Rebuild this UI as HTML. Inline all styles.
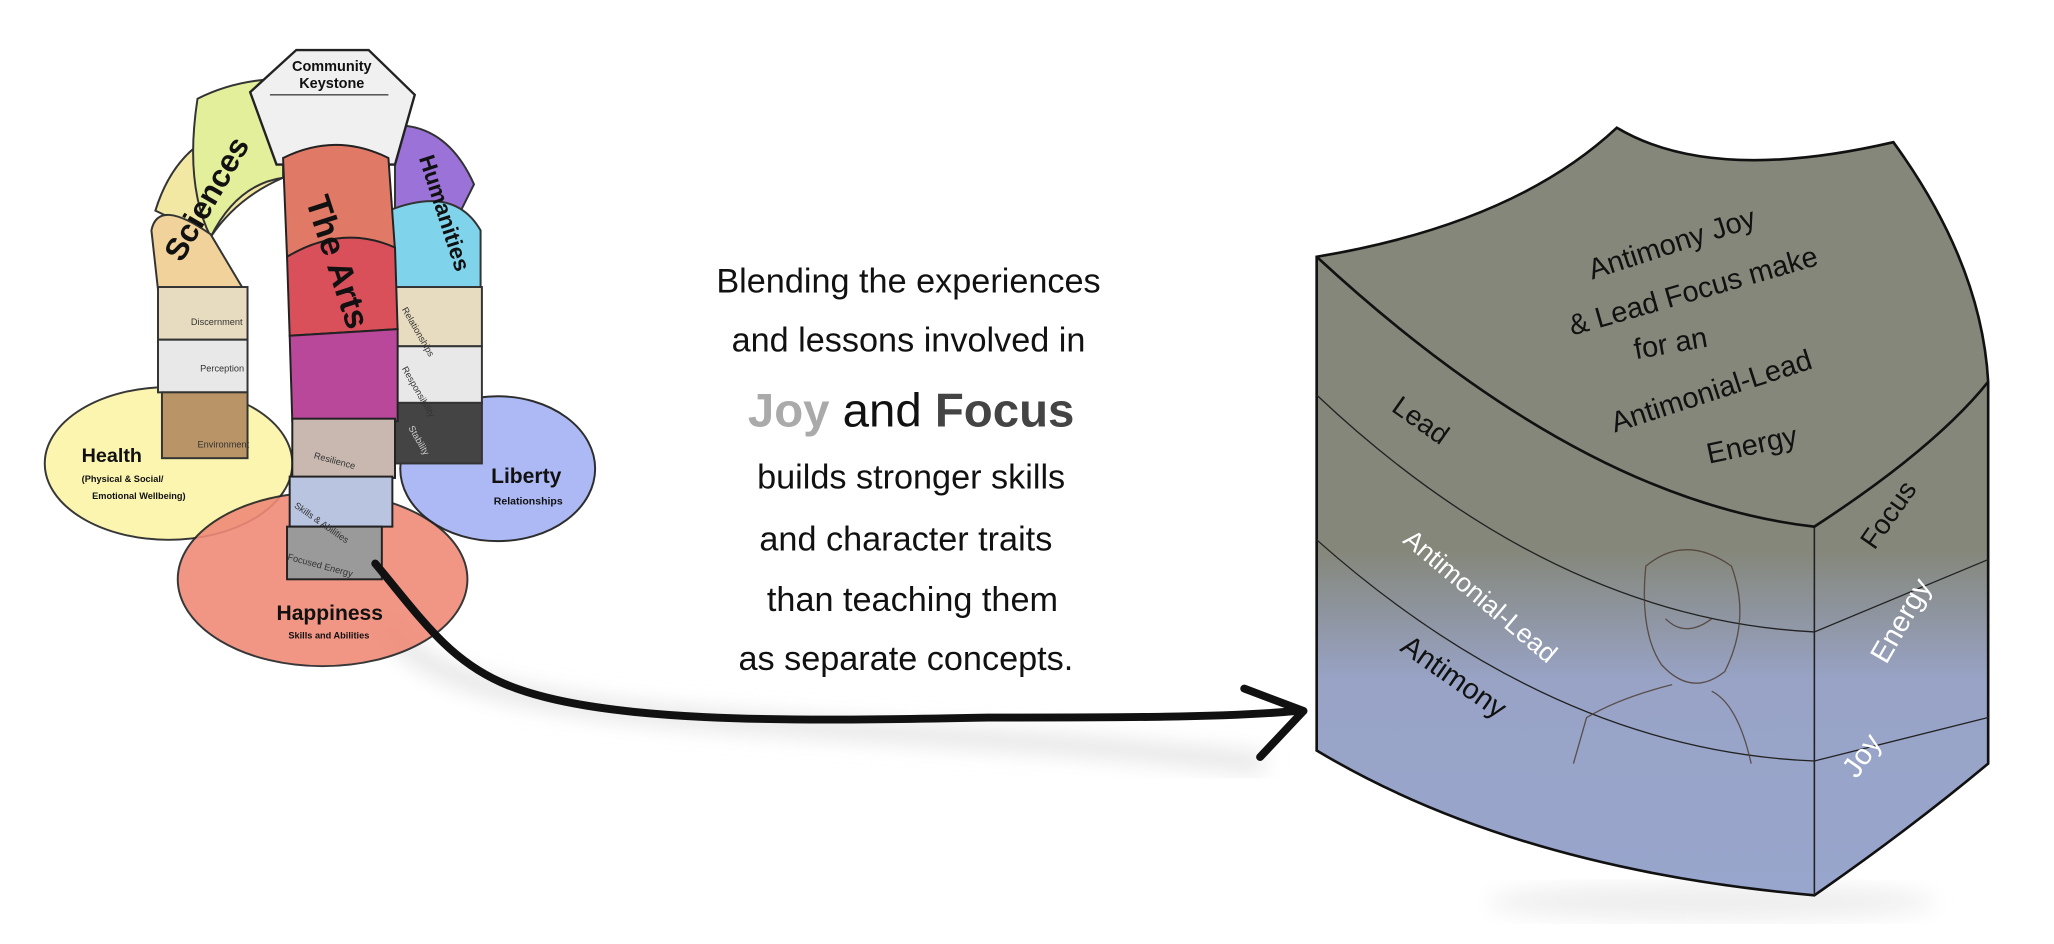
<!DOCTYPE html>
<html><head><meta charset="utf-8"><style>
html,body{margin:0;padding:0;background:#fff;}
svg{display:block;}
text{font-family:"Liberation Sans",sans-serif;}
</style></head><body>
<svg width="2054" height="944" viewBox="0 0 1560 717" preserveAspectRatio="none" xmlns="http://www.w3.org/2000/svg">
<defs>
<linearGradient id="sh" x1="0" y1="0" x2="0" y2="1">
<stop offset="0" stop-color="#85877a"/>
<stop offset="0.55" stop-color="#85877a"/>
<stop offset="0.72" stop-color="#98a3c6"/>
<stop offset="1" stop-color="#98a5cc"/>
</linearGradient>
<filter id="blur"><feGaussianBlur stdDeviation="8"/></filter>
</defs>

<ellipse cx="1300" cy="685" rx="170" ry="14" fill="#eee" filter="url(#blur)"/>
<path d="M290,470 C340,560 600,540 960,580" stroke="#e4e4e4" stroke-width="14" fill="none" filter="url(#blur)"/>

<g stroke="#222" stroke-width="1.5">
<ellipse cx="128" cy="352" rx="94" ry="58" fill="#fbf5a8" opacity="0.9"/>
<ellipse cx="378" cy="356" rx="74" ry="55" fill="#a9b6f4" opacity="0.95"/>
<ellipse cx="245" cy="440" rx="110" ry="66" fill="#f08a78" opacity="0.9"/>
</g>
<g stroke="#333" stroke-width="1.5">
<path d="M118,160 Q135,105 185,95 L215,135 Q180,150 160,180 Z" fill="#f2e8a4"/>
<path d="M150,75 Q180,60 215,60 L215,135 Q180,140 160,180 Q140,140 150,75Z" fill="#e4ef9c"/>
<path d="M115,175 Q120,150 160,178 L185,220 L120,220 Z" fill="#f0d29a"/>
<rect x="120" y="218" width="68" height="40" fill="#e8dcc0"/>
<rect x="120" y="258" width="68" height="40" fill="#e8e8e8"/>
<rect x="123" y="298" width="65" height="50" fill="#b89466"/>
</g>
<g stroke="#333" stroke-width="1.5">
<path d="M300,95 Q340,95 360,140 L345,170 L300,165 Z" fill="#9a72d8"/>
<path d="M295,160 Q345,140 365,175 L365,220 L300,220 Z" fill="#7fd3ea"/>
<rect x="300" y="218" width="66" height="45" fill="#e8dcc0"/>
<rect x="300" y="263" width="66" height="43" fill="#e8e8e8"/>
<rect x="300" y="306" width="66" height="46" fill="#444"/>
</g>
<path d="M190,70 L225,38 L280,38 L315,72 L300,125 L210,125 Z" fill="#f0f0f0" stroke="#222" stroke-width="1.8"/>
<path d="M205,72 L295,72" stroke="#444" fill="none"/>
<g stroke="#222" stroke-width="1.5">
<path d="M215,120 Q255,100 295,120 L300,190 L218,195 Z" fill="#e07a66"/>
<path d="M218,195 Q260,170 300,188 L302,250 L220,255 Z" fill="#d9505a"/>
<path d="M220,255 L302,250 L302,320 L222,320 Z" fill="#b9479a"/>
<rect x="222" y="318" width="78" height="45" fill="#c8b8b0"/>
<rect x="220" y="362" width="78" height="38" fill="#b9c4e0"/>
<rect x="218" y="400" width="72" height="40" fill="#9a9a9a"/>
</g>
<g fill="#111" font-weight="bold">
<text x="252" y="54" font-size="11" text-anchor="middle">Community</text>
<text x="252" y="67" font-size="11" text-anchor="middle">Keystone</text>
<text transform="translate(138,200) rotate(-60)" font-size="24">Sciences</text>
<text transform="translate(232,152) rotate(72)" font-size="26">The Arts</text>
<text transform="translate(318,120) rotate(72)" font-size="17">Humanities</text>
<text x="62" y="351" font-size="15">Health</text>
<text x="62" y="366" font-size="7">(Physical &amp; Social/</text>
<text x="70" y="379" font-size="7">Emotional Wellbeing)</text>
<text x="373" y="367" font-size="16">Liberty</text>
<text x="375" y="383" font-size="8">Relationships</text>
<text x="210" y="471" font-size="16">Happiness</text>
<text x="219" y="485" font-size="7">Skills and  Abilities</text>
</g>
<g fill="#333" font-size="7">
<text x="145" y="247">Discernment</text>
<text x="152" y="282">Perception</text>
<text x="150" y="340">Environment</text>
<text transform="translate(305,235) rotate(60)">Relationships</text>
<text transform="translate(305,280) rotate(60)">Responsibility</text>
<text transform="translate(310,325) rotate(60)" fill="#ccc">Stability</text>
<text transform="translate(238,348) rotate(15)">Resilience</text>
<text transform="translate(223,385) rotate(35)">Skills &amp; Abilities</text>
<text transform="translate(218,425) rotate(15)">Focused Energy</text>
</g>

<path d="M285,428 C320,470 340,500 380,518 C450,550 600,548 750,545 C850,545 930,545 985,540" stroke="#111" stroke-width="6" fill="none" stroke-linecap="round"/>
<path d="M945,523 L990,540 L957,575" stroke="#111" stroke-width="6" fill="none" stroke-linecap="round" stroke-linejoin="round"/>

<g font-size="26" fill="#111" text-anchor="middle">
<text x="690" y="222">Blending the experiences</text>
<text x="690" y="267">and lessons involved in</text>
<text x="692" y="324" font-size="36"><tspan fill="#aaa" font-weight="bold">Joy</tspan> and <tspan fill="#444" font-weight="bold">Focus</tspan></text>
<text x="692" y="371">builds stronger skills</text>
<text x="688" y="418">and character traits</text>
<text x="693" y="464">than teaching them</text>
<text x="688" y="509">as separate concepts.</text>
</g>

<path d="M1000,195 Q1150,170 1228,97 Q1300,140 1438,108 Q1505,200 1510,290 L1510,580 Q1450,630 1378,680 Q1150,660 1000,570 Z" fill="url(#sh)" stroke="#111" stroke-width="2"/>
<path d="M1378,400 L1378,680" stroke="#222" stroke-width="1.2" fill="none"/>
<path d="M1000,195 Q1200,380 1378,400 Q1470,340 1510,290" stroke="#111" stroke-width="2" fill="none"/>
<path d="M1000,300 Q1180,470 1378,480 L1510,425" stroke="#222" stroke-width="1" fill="none"/>
<path d="M1000,410 Q1180,570 1378,578 L1510,545" stroke="#222" stroke-width="1" fill="none"/>
<g fill="#111" font-size="22" text-anchor="middle">
<text transform="translate(1272,192) rotate(-18)">Antimony Joy</text>
<text transform="translate(1288,228) rotate(-16)">&amp; Lead Focus make</text>
<text transform="translate(1270,268) rotate(-10)">for an</text>
<text transform="translate(1302,304) rotate(-18)">Antimonial-Lead</text>
<text transform="translate(1332,345) rotate(-12)">Energy</text>
<text transform="translate(1075,325) rotate(35)" font-size="21">Lead</text>
<text transform="translate(1100,520) rotate(35)" font-size="22">Antimony</text>
<text transform="translate(1440,395) rotate(-55)" font-size="21">Focus</text>
</g>
<g fill="#fff" font-size="20" text-anchor="middle">
<text transform="translate(1120,458) rotate(40)">Antimonial-Lead</text>
<text transform="translate(1450,475) rotate(-60)" font-size="22">Energy</text>
<text transform="translate(1420,578) rotate(-55)" font-size="22">Joy</text>
</g>
<g stroke="#4a3a30" stroke-width="1" fill="none" opacity="0.8">
<path d="M1250,430 Q1280,405 1315,430 Q1330,470 1310,510 Q1285,530 1262,505 Q1245,480 1250,430Z"/>
<path d="M1265,470 Q1280,485 1300,470"/>
<path d="M1270,520 Q1230,530 1205,545 L1195,580"/>
<path d="M1300,525 Q1320,535 1330,580"/>
</g>
</svg>
</body></html>
